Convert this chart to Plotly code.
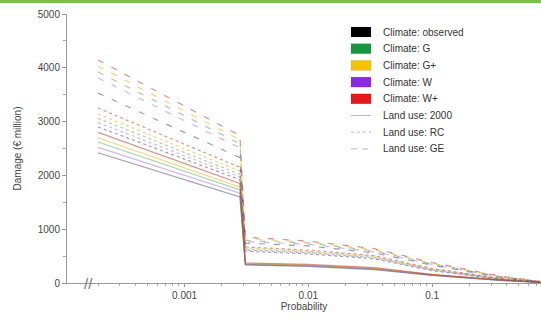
import plotly.graph_objects as go

# Probability points (x) shared by all curves
prob = [0.0002, 0.0028, 0.0031, 0.01, 0.034, 0.1, 0.35, 0.75]

climates = ["observed", "G", "G+", "W", "W+"]
climate_colors = ["#000000", "#1a9641", "#f5c400", "#8a2be2", "#e41a1c"]
line_rgba = ["rgba(60,60,90,0.5)", "rgba(40,150,70,0.42)", "rgba(220,180,0,0.5)",
             "rgba(140,60,200,0.38)", "rgba(190,40,40,0.5)"]

landuses = ["2000", "RC", "GE"]

# Damage values (EUR million), per land use, per climate
dmg_2000_observed = [2420, 1600, 335, 310, 250, 140, 50, 10]
dmg_2000_G = [2620, 1730, 350, 325, 265, 150, 55, 12]
dmg_2000_Gp = [2700, 1780, 360, 335, 275, 155, 58, 12]
dmg_2000_W = [2520, 1670, 345, 320, 260, 145, 52, 10]
dmg_2000_Wp = [2800, 1850, 375, 345, 285, 160, 60, 14]

dmg_RC_observed = [2900, 1920, 590, 540, 450, 230, 70, 15]
dmg_RC_G = [3060, 2020, 630, 575, 480, 250, 80, 18]
dmg_RC_Gp = [3140, 2080, 650, 590, 495, 260, 85, 18]
dmg_RC_W = [2980, 1970, 610, 560, 465, 240, 75, 16]
dmg_RC_Wp = [3250, 2150, 670, 610, 510, 270, 90, 20]

dmg_GE_observed = [3530, 2330, 740, 690, 560, 330, 110, 25]
dmg_GE_G = [3920, 2590, 790, 740, 600, 355, 120, 28]
dmg_GE_Gp = [4030, 2660, 820, 760, 620, 365, 125, 30]
dmg_GE_W = [3810, 2510, 770, 720, 580, 345, 115, 25]
dmg_GE_Wp = [4145, 2740, 850, 780, 640, 380, 130, 30]

series = {
    "2000": [dmg_2000_observed, dmg_2000_G, dmg_2000_Gp, dmg_2000_W, dmg_2000_Wp],
    "RC": [dmg_RC_observed, dmg_RC_G, dmg_RC_Gp, dmg_RC_W, dmg_RC_Wp],
    "GE": [dmg_GE_observed, dmg_GE_G, dmg_GE_Gp, dmg_GE_W, dmg_GE_Wp],
}
dash_styles = {"2000": "solid", "RC": "dot", "GE": "6px,9px"}

xtick_vals = [0.001, 0.01, 0.1]
xtick_text = ["0.001", "0.01", "0.1"]
ytick_vals = [0, 1000, 2000, 3000, 4000, 5000]

FONT = "Liberation Sans, Arial, sans-serif"
TXT = "#444444"

fig = go.Figure()
for lu in landuses:
    for i, c in enumerate(climates):
        fig.add_trace(go.Scatter(
            x=prob, y=series[lu][i], mode="lines",
            line=dict(color=line_rgba[i], width=1.2, dash=dash_styles[lu]),
            name=f"Climate: {c}, Land use: {lu}", showlegend=False,
            hoverinfo="x+y+name"))

# Manual legend (swatches + labels) to match the original look
shapes = []
annotations = []
W, H = 541, 322
L, R, T, B = 67, 0, 14, 39
pw, ph = W - L - R, H - T - B


def px_to_paper(xp, yp):
    return (xp - L) / pw, 1 - (yp - T) / ph


leg_y0 = 32
leg_dy = 16.7
for i, c in enumerate(climates):
    yc = leg_y0 + i * leg_dy
    x0, y0 = px_to_paper(351, yc - 5)
    x1, y1 = px_to_paper(371, yc + 5)
    shapes.append(dict(type="rect", xref="paper", yref="paper", x0=x0, x1=x1, y0=y0, y1=y1,
                       fillcolor=climate_colors[i], line=dict(color="rgba(0,0,0,0.15)", width=0.5)))
    ax, ay = px_to_paper(381, yc)
    annotations.append(dict(xref="paper", yref="paper", x=ax, y=ay, xanchor="left", yanchor="middle",
                            text=f"Climate: {c}", showarrow=False, font=dict(size=10, color="#333333", family=FONT)))
for j, lu in enumerate(landuses):
    yc = leg_y0 + (5 + j) * leg_dy
    x0, y = px_to_paper(351, yc)
    x1, _ = px_to_paper(371, yc)
    shapes.append(dict(type="line", xref="paper", yref="paper", x0=x0, x1=x1, y0=y, y1=y,
                       line=dict(color="#bbbbbb", width=1, dash=["solid", "dot", "6px,5px"][j])))
    ax, ay = px_to_paper(381, yc)
    annotations.append(dict(xref="paper", yref="paper", x=ax, y=ay, xanchor="left", yanchor="middle",
                            text=f"Land use: {lu}", showarrow=False, font=dict(size=10, color="#333333", family=FONT)))

# Axis break mark
bx, by = px_to_paper(88, 283)
annotations.append(dict(xref="paper", yref="paper", x=bx, y=by, xanchor="center", yanchor="middle",
                        text="//", showarrow=False, font=dict(size=15, color="#777777", family=FONT)))

# green strip at the top of the source image
gx0, gy0 = px_to_paper(0, 3)
gx1, gy1 = px_to_paper(W, 0)
shapes.append(dict(type="rect", xref="paper", yref="paper", x0=gx0, x1=gx1, y0=gy0, y1=gy1 + 0.01,
                   fillcolor="#7cbf4a", line=dict(width=0), layer="below"))

fig.update_layout(
    width=W, height=H,
    margin=dict(l=L, r=R, t=T, b=B),
    paper_bgcolor="white", plot_bgcolor="white",
    font=dict(family=FONT, size=10, color=TXT),
    showlegend=False,
    shapes=shapes, annotations=annotations,
)
fig.update_xaxes(
    type="log", range=[-3.95, -0.12],
    tickvals=xtick_vals, ticktext=xtick_text,
    ticks="outside", ticklen=3, tickcolor="#999999",
    minor=dict(ticks="outside", ticklen=2, tickcolor="#aaaaaa", dtick="D1"),
    showline=True, linecolor="#999999", linewidth=1,
    showgrid=False, zeroline=False,
    title=dict(text="Probability", font=dict(size=10, color=TXT), standoff=0),
    tickfont=dict(size=10, color=TXT),
)
fig.update_yaxes(
    range=[0, 5000], tickvals=ytick_vals,
    ticks="outside", ticklen=4, tickcolor="#999999",
    minor=dict(ticks="outside", ticklen=3, tickcolor="#aaaaaa", dtick=500),
    showline=True, linecolor="#999999", linewidth=1,
    showgrid=False, zeroline=False,
    title=dict(text="Damage (€ million)", font=dict(size=10, color=TXT), standoff=14),
    tickfont=dict(size=10, color=TXT),
)

fig.write_html("out.html", config={"displayModeBar": False},
               post_script="document.body.style.margin='0';document.body.style.overflow='hidden';")
